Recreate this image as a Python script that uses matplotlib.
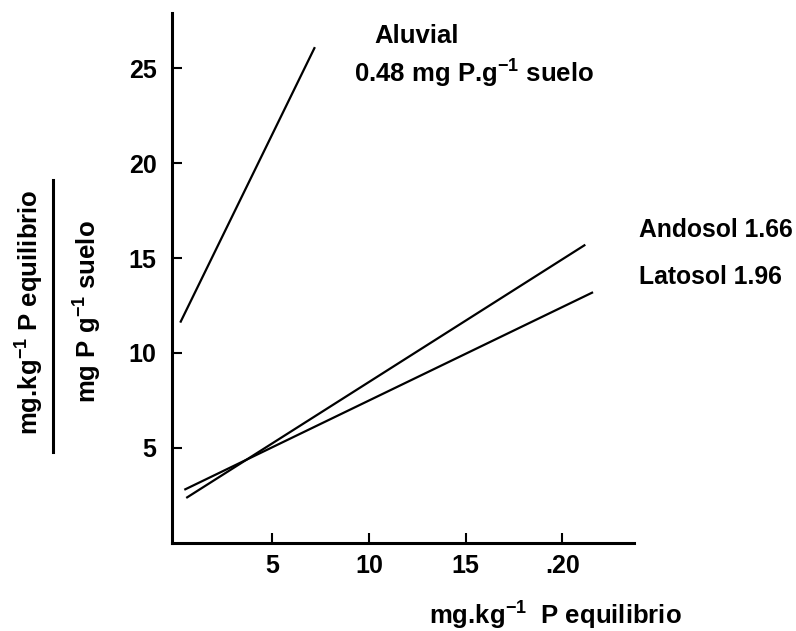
import matplotlib.pyplot as plt
import matplotlib.lines as mlines

plt.rcParams['font.family'] = ['Liberation Sans', 'DejaVu Sans']
plt.rcParams['mathtext.default'] = 'regular'

# Isotermas de adsorción (forma lineal)
aluvial_x = [0.23, 7.2]
aluvial_y = [11.6, 26.1]
andosol_x = [0.54, 21.2]
andosol_y = [2.37, 15.7]
latosol_x = [0.44, 21.6]
latosol_y = [2.8, 13.2]

xticks = [5, 10, 15, 20]
xtick_labels = ['5', '10', '15', '.20']
yticks = [5, 10, 15, 20, 25]
ytick_labels = ['5', '10', '15', '20', '25']

fig = plt.figure(figsize=(7.96, 6.31), dpi=100)
ax = fig.add_axes([0.216, 0.1395, 0.580, 0.840])

for xs, ys in [(aluvial_x, aluvial_y), (andosol_x, andosol_y), (latosol_x, latosol_y)]:
    ax.plot(xs, ys, color='black', linewidth=1.6, solid_capstyle='butt')

ax.set_xlim(-0.2, 23.7)
ax.set_ylim(0, 27.9)
ax.set_xticks(xticks)
ax.set_xticklabels(xtick_labels)
ax.set_yticks(yticks)
ax.set_yticklabels(ytick_labels)
for s in ['top', 'right']:
    ax.spines[s].set_visible(False)
for s in ['left', 'bottom']:
    ax.spines[s].set_linewidth(2.2)
ax.tick_params(direction='in', length=7, width=1.5, labelsize=18)
ax.tick_params(axis='y', pad=11)
ax.tick_params(axis='x', pad=8)
for lab in ax.get_xticklabels() + ax.get_yticklabels():
    lab.set_fontweight('bold')

# Etiquetas de las curvas
txt = dict(fontsize=18.5, fontweight='bold', va='center', ha='left', clip_on=False)
ax.text(10.3, 26.7, 'Aluvial', **txt)
ax.text(9.2, 24.7, '0.48 mg P.g$^{-1}$ suelo', **txt)
ax.text(24.0, 16.5, 'Andosol 1.66', fontsize=17.8, fontweight='bold', va='center',
        ha='left', clip_on=False)
ax.text(24.0, 14.0, 'Latosol 1.96', fontsize=17.8, fontweight='bold', va='center',
        ha='left', clip_on=False)

# Eje x
fig.text(555 / 796, 1 - 616 / 631, 'mg.kg$^{-1}$  P equilibrio', fontsize=18.5,
         fontweight='bold', ha='center', va='center')

# Eje y como fracción
fig.text(30 / 796, 1 - 312 / 631, 'mg.kg$^{-1}$ P equilibrio', fontsize=18.5,
         fontweight='bold', rotation=90, ha='center', va='center')
fig.text(88 / 796, 1 - 312 / 631, 'mg P g$^{-1}$ suelo', fontsize=18.5,
         fontweight='bold', rotation=90, ha='center', va='center')
fig.add_artist(mlines.Line2D([53 / 796, 53 / 796], [1 - 452 / 631, 1 - 180 / 631],
                             color='black', linewidth=2.2, transform=fig.transFigure))

fig.savefig('out.png', dpi=100)
